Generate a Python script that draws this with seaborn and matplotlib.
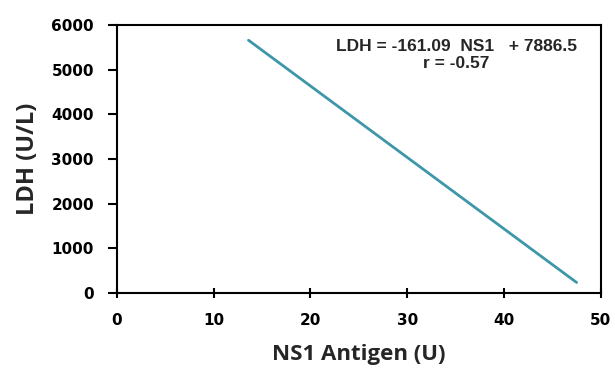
import numpy as np
import matplotlib
matplotlib.use('Agg')
import matplotlib.pyplot as plt
import pandas as pd
import seaborn as sns

# regression line (end points)
ns1 = [13.6, 47.5]
ldh = [5660, 235]
x_ticks = [0, 10, 20, 30, 40, 50]
y_ticks = [0, 1000, 2000, 3000, 4000, 5000, 6000]
eq_text = "LDH = -161.09  NS1   + 7886.5\nr = -0.57"

sns.set_style("white")
plt.rcParams['font.family'] = ['Open Sans', 'DejaVu Sans']

df = pd.DataFrame({"ns1": ns1, "ldh": ldh})

fig = plt.figure(figsize=(6.15, 3.74), dpi=100)
ax = fig.add_axes([0.190, 0.2166, 0.787, 0.7164])

sns.lineplot(data=df, x="ns1", y="ldh", ax=ax, color="#3d97a9", linewidth=2)

ax.set_xlim(0, 50)
ax.set_ylim(0, 6000)
ax.set_xticks(x_ticks)
ax.set_yticks(y_ticks)
for s in ax.spines.values():
    s.set_visible(True)
    s.set_color("black")
    s.set_linewidth(1.5)
ax.tick_params(axis="x", bottom=True, direction="inout", length=6.5, width=1.5,
               colors="black", labelsize=11, pad=11)
ax.tick_params(axis="y", left=True, direction="out", length=6.5, width=1.5,
               colors="black", labelsize=11, pad=10)
for lab in ax.get_xticklabels() + ax.get_yticklabels():
    lab.set_fontweight("bold")
    lab.set_family("DejaVu Sans")

ax.set_xlabel("NS1 Antigen (U)", fontsize=16, fontweight="bold", labelpad=12)
ax.set_ylabel("LDH (U/L)", fontsize=17, fontweight="bold", labelpad=8)

ax.text(0.701, 0.948, eq_text, transform=ax.transAxes, ha="center", va="top",
        fontsize=12.5, fontweight="bold", family=['Liberation Sans', 'DejaVu Sans'],
        linespacing=1.15)

fig.savefig("out.png", dpi=100)
